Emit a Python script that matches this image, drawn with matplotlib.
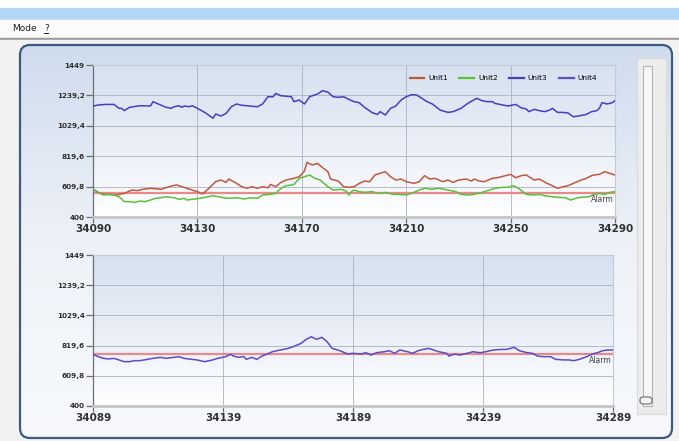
import matplotlib
matplotlib.use("Agg")
import matplotlib.pyplot as plt
import numpy as np
from matplotlib.colors import LinearSegmentedColormap
from matplotlib.patches import Rectangle, FancyBboxPatch

# ---- data ----
y_ticks = [400, 609.8, 819.6, 1029.4, 1239.2, 1449]
y_ticklabels = ["400", "609,8", "819,6", "1029,4", "1239,2", "1449"]

top_xticks = [34090, 34130, 34170, 34210, 34250, 34290]
bottom_xticks = [34089, 34139, 34189, 34239, 34289]

top_alarm = 565
bottom_alarm = 761

unit1_x = [34090, 34092, 34094, 34097, 34099, 34102, 34104, 34105, 34107, 34109,
           34112, 34116, 34118, 34120, 34122, 34124, 34126, 34128, 34130, 34132,
           34134, 34135, 34137, 34139, 34141, 34142, 34145, 34147, 34149, 34151,
           34153, 34155, 34157, 34158, 34160, 34162, 34164, 34167, 34169, 34171,
           34172, 34174, 34176, 34178, 34180, 34181, 34184, 34186, 34188, 34190,
           34192, 34194, 34196, 34198, 34200, 34202, 34204, 34206, 34208, 34210,
           34213, 34215, 34217, 34219, 34221, 34224, 34226, 34228, 34230, 34233,
           34235, 34236, 34238, 34240, 34243, 34245, 34248, 34250, 34252, 34254,
           34256, 34258, 34259, 34261, 34264, 34266, 34268, 34270, 34272, 34274,
           34277, 34279, 34281, 34282, 34284, 34286, 34288, 34290]
unit1_y = [591, 570, 556, 556, 552, 563, 579, 586, 582, 591,
           598, 591, 602, 614, 621, 609, 598, 586, 575, 559,
           591, 609, 644, 655, 639, 662, 632, 609, 598, 609,
           598, 609, 602, 625, 609, 639, 655, 667, 678, 717,
           777, 759, 770, 740, 713, 662, 648, 609, 605, 609,
           632, 648, 644, 690, 701, 713, 678, 655, 662, 644,
           632, 644, 685, 662, 667, 644, 655, 639, 655, 662,
           648, 662, 648, 644, 667, 671, 685, 694, 671, 685,
           690, 667, 655, 662, 632, 616, 598, 609, 616, 632,
           655, 667, 685, 690, 694, 713, 701, 690]

unit2_x = [34090, 34092, 34094, 34096, 34098, 34100, 34102, 34104, 34106, 34108,
           34110, 34112, 34114, 34116, 34118, 34121, 34123, 34125, 34126, 34128,
           34131, 34133, 34136, 34138, 34140, 34142, 34145, 34148, 34150, 34153,
           34155, 34158, 34160, 34162, 34164, 34166, 34167, 34169, 34171, 34173,
           34175, 34177, 34180, 34182, 34185, 34187, 34188, 34189, 34190, 34192,
           34194, 34197, 34199, 34202, 34205, 34207, 34210, 34212, 34215, 34217,
           34220, 34222, 34224, 34226, 34229, 34231, 34234, 34236, 34239, 34242,
           34244, 34247, 34249, 34251, 34253, 34255, 34256, 34259, 34261, 34263,
           34266, 34268, 34271, 34273, 34275, 34277, 34280, 34282, 34284, 34286,
           34288, 34290]
unit2_y = [594, 570, 552, 556, 552, 540, 506, 506, 501, 510,
           506, 517, 529, 533, 540, 533, 522, 529, 517, 522,
           529, 536, 547, 540, 533, 529, 533, 524, 533, 529,
           552, 556, 563, 598, 616, 621, 625, 667, 678, 690,
           667, 655, 609, 586, 591, 579, 552, 575, 586, 575,
           570, 575, 563, 570, 556, 556, 552, 563, 586, 598,
           591, 598, 594, 586, 575, 556, 552, 556, 570, 586,
           598, 605, 605, 616, 598, 570, 556, 552, 556, 547,
           540, 536, 533, 517, 529, 536, 540, 556, 563, 556,
           570, 575]

unit3_x = [34090, 34092, 34095, 34098, 34100, 34101, 34102, 34104, 34108, 34112,
           34113, 34115, 34118, 34120, 34121, 34123, 34124, 34125, 34127, 34128,
           34130, 34133, 34136, 34137, 34139, 34141, 34143, 34145, 34147, 34150,
           34153, 34155, 34157, 34159, 34160, 34162, 34166, 34167, 34169, 34171,
           34173, 34176, 34178, 34180, 34182, 34184, 34186, 34188, 34190, 34192,
           34194, 34197, 34199, 34200, 34202, 34204, 34206, 34208, 34210, 34212,
           34214, 34216, 34218, 34220, 34223, 34226, 34228, 34231, 34234, 34237,
           34239, 34241, 34243, 34244, 34247, 34249, 34252, 34254, 34256, 34257,
           34259, 34261, 34263, 34265, 34266, 34268, 34270, 34272, 34274, 34276,
           34279, 34281, 34283, 34284, 34285, 34287, 34289, 34290]
unit3_y = [1166, 1173, 1177, 1177, 1150, 1150, 1134, 1157, 1168, 1166,
           1196, 1180, 1157, 1150, 1161, 1168, 1157, 1166, 1161, 1168,
           1150, 1120, 1081, 1111, 1097, 1115, 1161, 1180, 1171, 1166,
           1161, 1180, 1230, 1230, 1253, 1237, 1230, 1196, 1207, 1180,
           1230, 1249, 1272, 1262, 1230, 1226, 1230, 1212, 1196, 1189,
           1157, 1120, 1108, 1127, 1104, 1150, 1166, 1207, 1230, 1244,
           1242, 1219, 1196, 1180, 1138, 1122, 1127, 1150, 1189, 1219,
           1203, 1196, 1196, 1184, 1173, 1166, 1177, 1154, 1145, 1127,
           1143, 1134, 1127, 1138, 1150, 1122, 1122, 1118, 1092, 1097,
           1108, 1127, 1134, 1150, 1189, 1180, 1189, 1203]

# Unit4 lies under Unit3 in the screenshot, nothing separate to read
unit4_x = []
unit4_y = []

lower_x = [34089, 34091, 34093, 34095, 34097, 34099, 34101, 34103, 34105, 34107,
           34110, 34112, 34115, 34117, 34120, 34122, 34124, 34127, 34129, 34132,
           34135, 34137, 34140, 34142, 34143, 34145, 34147, 34148, 34150, 34152,
           34154, 34156, 34158, 34161, 34164, 34166, 34169, 34171, 34173, 34175,
           34177, 34179, 34181, 34184, 34187, 34189, 34192, 34194, 34196, 34198,
           34201, 34203, 34205, 34207, 34210, 34212, 34214, 34216, 34218, 34220,
           34222, 34225, 34226, 34228, 34230, 34233, 34235, 34238, 34240, 34243,
           34246, 34248, 34251, 34253, 34256, 34258, 34260, 34262, 34265, 34267,
           34270, 34272, 34274, 34276, 34279, 34281, 34283, 34285, 34287, 34289]
lower_y = [759, 743, 731, 727, 731, 720, 708, 708, 715, 715,
           724, 731, 738, 731, 738, 743, 731, 724, 720, 708,
           720, 731, 743, 759, 747, 738, 743, 724, 738, 724,
           747, 761, 777, 789, 800, 812, 835, 863, 881, 863,
           877, 847, 800, 784, 761, 766, 761, 770, 754, 770,
           777, 784, 766, 789, 777, 766, 784, 793, 800, 789,
           777, 766, 747, 761, 754, 766, 777, 770, 777, 789,
           793, 793, 807, 784, 770, 766, 747, 743, 743, 724,
           720, 720, 715, 724, 743, 761, 770, 784, 789, 789]

legend_names = ["Unit1", "Unit2", "Unit3", "Unit4"]
legend_colors = ["#c0583f", "#5cbf3c", "#4a3bc6", "#5e50c2"]

W, H = 679, 441
fig = plt.figure(figsize=(W / 100, H / 100), dpi=100)
fig.patch.set_facecolor("white")

# ---- window chrome drawn in pixel coordinates ----
bg = fig.add_axes([0, 0, 1, 1], zorder=0)
bg.set_xlim(0, W)
bg.set_ylim(H, 0)
bg.axis("off")

bg.add_patch(Rectangle((0, 8), W, 12, color="#b4d6f6"))
bg.add_patch(Rectangle((0, 20), W, 18, color="#fbfbfb"))
bg.text(12, 28.5, "Mode", fontsize=6.5, va="center", color="#202020")
bg.text(44, 28.5, "?", fontsize=6.5, va="center", color="#202020")
bg.plot([44, 48], [33, 33], color="#202020", lw=0.7)
bg.add_patch(Rectangle((0, 38), W, 2, color="#9a9a9a"))
bg.add_patch(Rectangle((0, 40), W, H - 40, color="#f2f2f2"))

panel = FancyBboxPatch((20, 45), 652, 393, boxstyle="round,pad=0,rounding_size=10",
                       fc="none", ec="#3c5a82", lw=1.6, zorder=3)
bg.add_patch(panel)
panel_cmap = LinearSegmentedColormap.from_list("panel", ["#cfdcee", "#eef2f8", "#f7f9fc"])
grad = np.linspace(0, 1, 256).reshape(-1, 1)
im = bg.imshow(grad, cmap=panel_cmap, extent=[20, 672, 438, 45], aspect="auto", zorder=1)
im.set_clip_path(panel)

# slider on the right
bg.add_patch(Rectangle((637, 58), 29, 356, fc="#ececec", ec="#dadada", lw=0.8, zorder=4))
bg.add_patch(Rectangle((643, 66), 9, 340, fc="#f6f6f6", ec="#b4b4b4", lw=0.8, zorder=5))
bg.add_patch(FancyBboxPatch((640, 397), 12, 7, boxstyle="round,pad=0,rounding_size=3",
                            fc="#f4f4f4", ec="#6a6a6a", lw=0.8, zorder=6))
bg.set_xlim(0, W)
bg.set_ylim(H, 0)

plot_cmap = LinearSegmentedColormap.from_list("plot", ["#d6e1f0", "#e9eef7", "#ffffff"])


def style_axes(ax, xticks, alarm):
    g = ax.imshow(grad, cmap=plot_cmap, extent=[0, 1, 0, 1], transform=ax.transAxes,
                  aspect="auto", zorder=0)
    ax.set_xlim(xticks[0], xticks[-1])
    ax.set_ylim(y_ticks[0], y_ticks[-1])
    ax.set_xticks(xticks)
    ax.set_xticklabels([str(t) for t in xticks])
    ax.set_yticks(y_ticks)
    ax.set_yticklabels(y_ticklabels)
    ax.grid(True, color="#aab2c2", lw=0.6)
    ax.set_axisbelow(True)
    for s in ["top", "right"]:
        ax.spines[s].set_color("#c2cad6")
        ax.spines[s].set_linewidth(0.8)
    ax.spines["left"].set_color("#6e6e6e")
    ax.spines["left"].set_linewidth(0.9)
    ax.spines["bottom"].set_color("#c6c6c6")
    ax.spines["bottom"].set_linewidth(2)
    ax.tick_params(axis="y", length=5, width=0.9, color="#6e6e6e", labelsize=5.2,
                   labelcolor="#303030", pad=1)
    ax.tick_params(axis="x", length=4, width=0.9, color="#6e6e6e", labelsize=7.5,
                   labelcolor="#303030", pad=1)
    for lab in ax.get_yticklabels() + ax.get_xticklabels():
        lab.set_fontweight("bold")
    ax.axhline(alarm, color="#e88a8a", lw=1.6, zorder=2)
    ax.text(0.997, alarm - 12, "Alarm", transform=ax.get_yaxis_transform(),
            ha="right", va="top", fontsize=5.5, color="#404040", zorder=5)
    ax.patch.set_alpha(0)


ax1 = fig.add_axes([93 / W, 1 - 217 / H, 522 / W, 152 / H], zorder=2)
style_axes(ax1, top_xticks, top_alarm)
series = [(unit1_x, unit1_y), (unit2_x, unit2_y), (unit3_x, unit3_y), (unit4_x, unit4_y)]
for (xs, ys), name, c in zip(series, legend_names, legend_colors):
    ax1.plot(xs, ys, color=c, lw=1.1, label=name, zorder=3)
ax1.set_xlim(top_xticks[0], top_xticks[-1])
ax1.set_ylim(y_ticks[0], y_ticks[-1])
leg = ax1.legend(loc="center right", bbox_to_anchor=(0.966, 0.914), ncol=4,
                 frameon=False, fontsize=5.3, handlelength=2.0, handletextpad=0.5,
                 columnspacing=1.6, borderpad=0, borderaxespad=0)
for line in leg.get_lines():
    line.set_linewidth(1.6)

ax2 = fig.add_axes([93 / W, 1 - 406 / H, 520 / W, 151 / H], zorder=2)
style_axes(ax2, bottom_xticks, bottom_alarm)
ax2.plot(lower_x, lower_y, color="#5a4cc6", lw=1.1, zorder=3)
ax2.set_xlim(bottom_xticks[0], bottom_xticks[-1])
ax2.set_ylim(y_ticks[0], y_ticks[-1])

fig.savefig("out.png", dpi=100)
